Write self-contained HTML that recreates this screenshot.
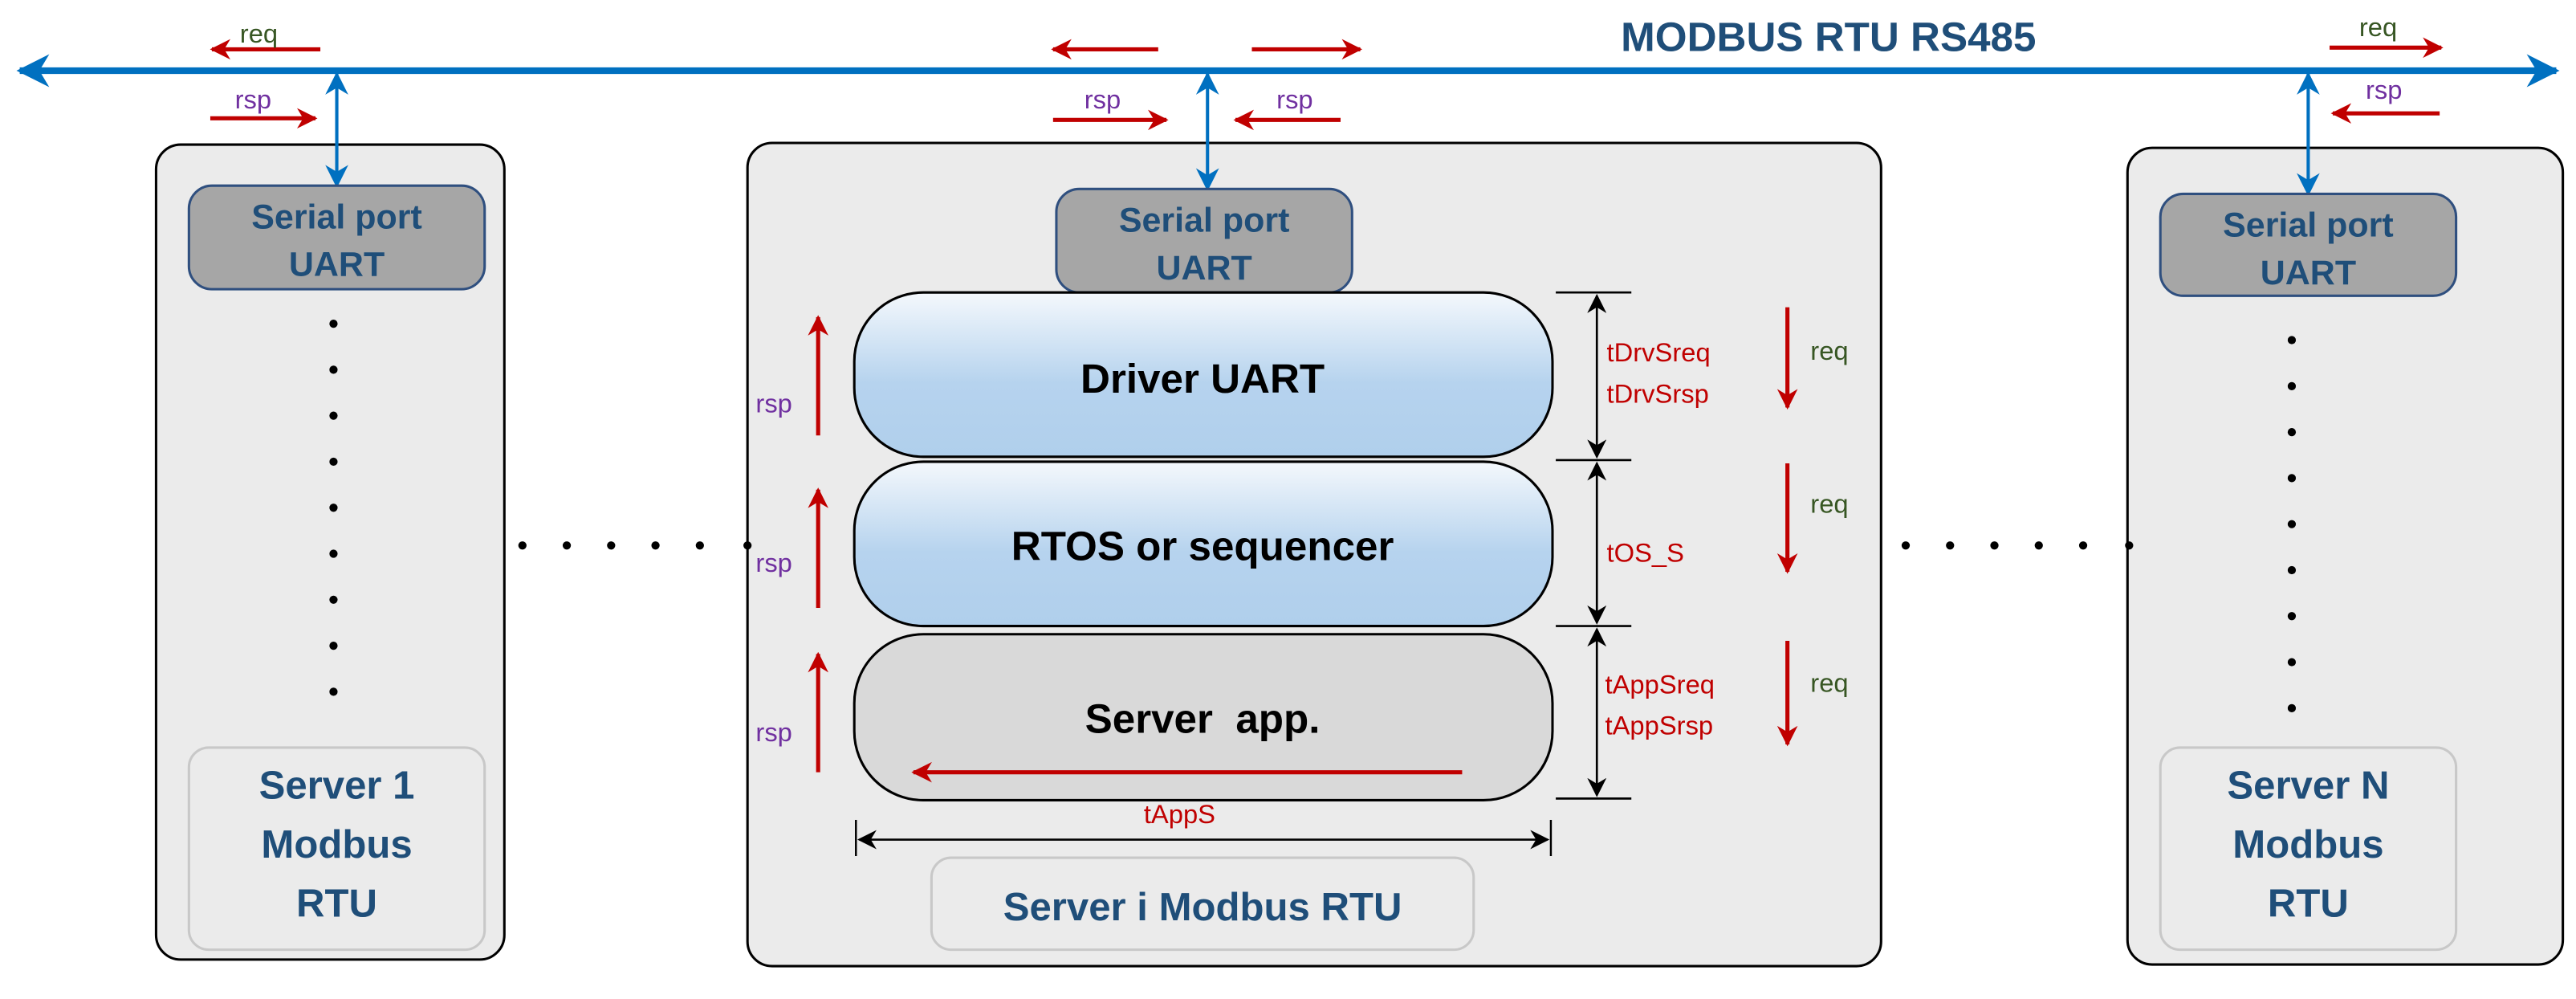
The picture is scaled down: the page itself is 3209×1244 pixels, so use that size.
<!DOCTYPE html>
<html><head><meta charset="utf-8"><style>
html,body{margin:0;padding:0;background:#fff;}
svg{display:block;}
text{font-family:"Liberation Sans",sans-serif;}
</style></head><body>
<svg width="3209" height="1244" viewBox="0 0 1568 608" preserveAspectRatio="none" xmlns="http://www.w3.org/2000/svg">
<defs>
<marker id="bl" viewBox="0 0 10 10" refX="9" refY="5" markerWidth="5" markerHeight="5" orient="auto-start-reverse"><path d="M0,0 L10,5 L0,10 L3,5 z" fill="#0070C0"/></marker>
<marker id="bb" viewBox="0 0 10 10" refX="9" refY="5" markerWidth="7" markerHeight="8" orient="auto-start-reverse"><path d="M0,0 L10,5 L0,10 L3,5 z" fill="#0070C0"/></marker>
<marker id="rd" viewBox="0 0 10 10" refX="9" refY="5" markerWidth="5" markerHeight="6" orient="auto-start-reverse"><path d="M0,0 L10,5 L0,10 L3,5 z" fill="#C00000"/></marker>
<marker id="bk" viewBox="0 0 10 10" refX="9" refY="5" markerWidth="9" markerHeight="9" orient="auto-start-reverse"><path d="M0,0 L10,5 L0,10 L3,5 z" fill="#000"/></marker>
<linearGradient id="gb" x1="0" y1="0" x2="0" y2="1"><stop offset="0" stop-color="#f4f8fc"/><stop offset="0.55" stop-color="#b6d3ee"/><stop offset="1" stop-color="#b0cfec"/></linearGradient>
</defs>

<line x1="12" y1="43" x2="1556" y2="43" stroke="#0070C0" stroke-width="4" marker-start="url(#bl)" marker-end="url(#bl)"/>
<text x="1113" y="31" font-size="25" font-weight="bold" fill="#1F4E79" text-anchor="middle">MODBUS RTU RS485</text>

<rect x="95" y="88" width="212" height="496" rx="15" fill="#ebebeb" stroke="#000" stroke-width="1.5"/>
<rect x="455" y="87" width="690" height="501" rx="15" fill="#ebebeb" stroke="#000" stroke-width="1.5"/>
<rect x="1295" y="90" width="265" height="497" rx="15" fill="#ebebeb" stroke="#000" stroke-width="1.5"/>

<line x1="205" y1="45" x2="205" y2="113" stroke="#0070C0" stroke-width="2" marker-start="url(#bb)" marker-end="url(#bb)"/>
<line x1="735" y1="45" x2="735" y2="115" stroke="#0070C0" stroke-width="2" marker-start="url(#bb)" marker-end="url(#bb)"/>
<line x1="1405" y1="45" x2="1405" y2="118" stroke="#0070C0" stroke-width="2" marker-start="url(#bb)" marker-end="url(#bb)"/>

<g font-size="21" font-weight="bold" fill="#1F4E79" text-anchor="middle">
<rect x="115" y="113" width="180" height="63" rx="14" fill="#a6a6a6" stroke="#2F4F7F" stroke-width="1.5"/>
<text x="205" y="139">Serial port</text><text x="205" y="168">UART</text>
<rect x="643" y="115" width="180" height="63" rx="14" fill="#a6a6a6" stroke="#2F4F7F" stroke-width="1.5"/>
<text x="733" y="141">Serial port</text><text x="733" y="170">UART</text>
<rect x="1315" y="118" width="180" height="62" rx="14" fill="#a6a6a6" stroke="#2F4F7F" stroke-width="1.5"/>
<text x="1405" y="144">Serial port</text><text x="1405" y="173">UART</text>
</g>

<g fill="#000">
<circle cx="203" cy="197" r="2.5"/><circle cx="203" cy="225" r="2.5"/><circle cx="203" cy="253" r="2.5"/><circle cx="203" cy="281" r="2.5"/><circle cx="203" cy="309" r="2.5"/><circle cx="203" cy="337" r="2.5"/><circle cx="203" cy="365" r="2.5"/><circle cx="203" cy="393" r="2.5"/><circle cx="203" cy="421" r="2.5"/>
<circle cx="1395" cy="207" r="2.5"/><circle cx="1395" cy="235" r="2.5"/><circle cx="1395" cy="263" r="2.5"/><circle cx="1395" cy="291" r="2.5"/><circle cx="1395" cy="319" r="2.5"/><circle cx="1395" cy="347" r="2.5"/><circle cx="1395" cy="375" r="2.5"/><circle cx="1395" cy="403" r="2.5"/><circle cx="1395" cy="431" r="2.5"/>
<circle cx="318" cy="332" r="2.5"/><circle cx="345" cy="332" r="2.5"/><circle cx="372" cy="332" r="2.5"/><circle cx="399" cy="332" r="2.5"/><circle cx="426" cy="332" r="2.5"/><circle cx="455" cy="332" r="2.5"/>
<circle cx="1160" cy="332" r="2.5"/><circle cx="1187" cy="332" r="2.5"/><circle cx="1214" cy="332" r="2.5"/><circle cx="1241" cy="332" r="2.5"/><circle cx="1268" cy="332" r="2.5"/><circle cx="1296" cy="332" r="2.5"/>
</g>

<g font-size="24" font-weight="bold" fill="#1F4E79" text-anchor="middle">
<rect x="115" y="455" width="180" height="123" rx="12" fill="#ebebeb" stroke="#c8c8c8" stroke-width="1.5"/>
<text x="205" y="486">Server 1</text><text x="205" y="522">Modbus</text><text x="205" y="558">RTU</text>
<rect x="1315" y="455" width="180" height="123" rx="12" fill="#ebebeb" stroke="#c8c8c8" stroke-width="1.5"/>
<text x="1405" y="486">Server N</text><text x="1405" y="522">Modbus</text><text x="1405" y="558">RTU</text>
<rect x="567" y="522" width="330" height="56" rx="12" fill="#ebebeb" stroke="#c8c8c8" stroke-width="1.5"/>
<text x="732" y="560">Server i Modbus RTU</text>
</g>

<rect x="520" y="178" width="425" height="100" rx="42" fill="url(#gb)" stroke="#000" stroke-width="1.5"/>
<rect x="520" y="281" width="425" height="100" rx="42" fill="url(#gb)" stroke="#000" stroke-width="1.5"/>
<rect x="520" y="386" width="425" height="101" rx="42" fill="#d9d9d9" stroke="#000" stroke-width="1.5"/>
<g font-size="25" font-weight="bold" fill="#000" text-anchor="middle">
<text x="732" y="239">Driver UART</text>
<text x="732" y="341">RTOS or sequencer</text>
<text x="732" y="446">Server&#160;&#160;app.</text>
</g>
<line x1="890" y1="470" x2="556" y2="470" stroke="#C00000" stroke-width="2.5" marker-end="url(#rd)"/>

<line x1="521" y1="499" x2="521" y2="521" stroke="#000" stroke-width="1.2"/>
<line x1="944" y1="499" x2="944" y2="521" stroke="#000" stroke-width="1.2"/>
<line x1="523" y1="511" x2="942" y2="511" stroke="#000" stroke-width="1.3" marker-start="url(#bk)" marker-end="url(#bk)"/>
<text x="718" y="501" font-size="16" fill="#C00000" text-anchor="middle">tAppS</text>

<g stroke="#000" stroke-width="1.3">
<line x1="947" y1="178" x2="993" y2="178"/><line x1="947" y1="280" x2="993" y2="280"/><line x1="947" y1="381" x2="993" y2="381"/><line x1="947" y1="486" x2="993" y2="486"/>
<line x1="972" y1="180" x2="972" y2="278" marker-start="url(#bk)" marker-end="url(#bk)"/>
<line x1="972" y1="282" x2="972" y2="379" marker-start="url(#bk)" marker-end="url(#bk)"/>
<line x1="972" y1="383" x2="972" y2="484" marker-start="url(#bk)" marker-end="url(#bk)"/>
</g>
<g font-size="16" fill="#C00000">
<text x="978" y="220">tDrvSreq</text><text x="978" y="245">tDrvSrsp</text>
<text x="978" y="342">tOS_S</text>
<text x="977" y="422">tAppSreq</text><text x="977" y="447">tAppSrsp</text>
</g>

<g stroke="#C00000" stroke-width="2.5">
<line x1="1088" y1="187" x2="1088" y2="248" marker-end="url(#rd)"/>
<line x1="1088" y1="282" x2="1088" y2="348" marker-end="url(#rd)"/>
<line x1="1088" y1="390" x2="1088" y2="453" marker-end="url(#rd)"/>
<line x1="498" y1="265" x2="498" y2="193" marker-end="url(#rd)"/>
<line x1="498" y1="370" x2="498" y2="298" marker-end="url(#rd)"/>
<line x1="498" y1="470" x2="498" y2="398" marker-end="url(#rd)"/>
<line x1="195" y1="30" x2="129" y2="30" marker-end="url(#rd)"/>
<line x1="128" y1="72" x2="192" y2="72" marker-end="url(#rd)"/>
<line x1="705" y1="30" x2="641" y2="30" marker-end="url(#rd)"/>
<line x1="762" y1="30" x2="828" y2="30" marker-end="url(#rd)"/>
<line x1="641" y1="73" x2="710" y2="73" marker-end="url(#rd)"/>
<line x1="816" y1="73" x2="752" y2="73" marker-end="url(#rd)"/>
<line x1="1418" y1="29" x2="1486" y2="29" marker-end="url(#rd)"/>
<line x1="1485" y1="69" x2="1420" y2="69" marker-end="url(#rd)"/>
</g>
<g font-size="16" fill="#375623">
<text x="1102" y="219">req</text><text x="1102" y="312">req</text><text x="1102" y="421">req</text>
<text x="146" y="26">req</text><text x="1436" y="22">req</text>
</g>
<g font-size="16" fill="#7030A0">
<text x="460" y="251">rsp</text><text x="460" y="348">rsp</text><text x="460" y="451">rsp</text>
<text x="143" y="66">rsp</text><text x="660" y="66">rsp</text><text x="777" y="66">rsp</text><text x="1440" y="60">rsp</text>
</g>
</svg>
</body></html>
